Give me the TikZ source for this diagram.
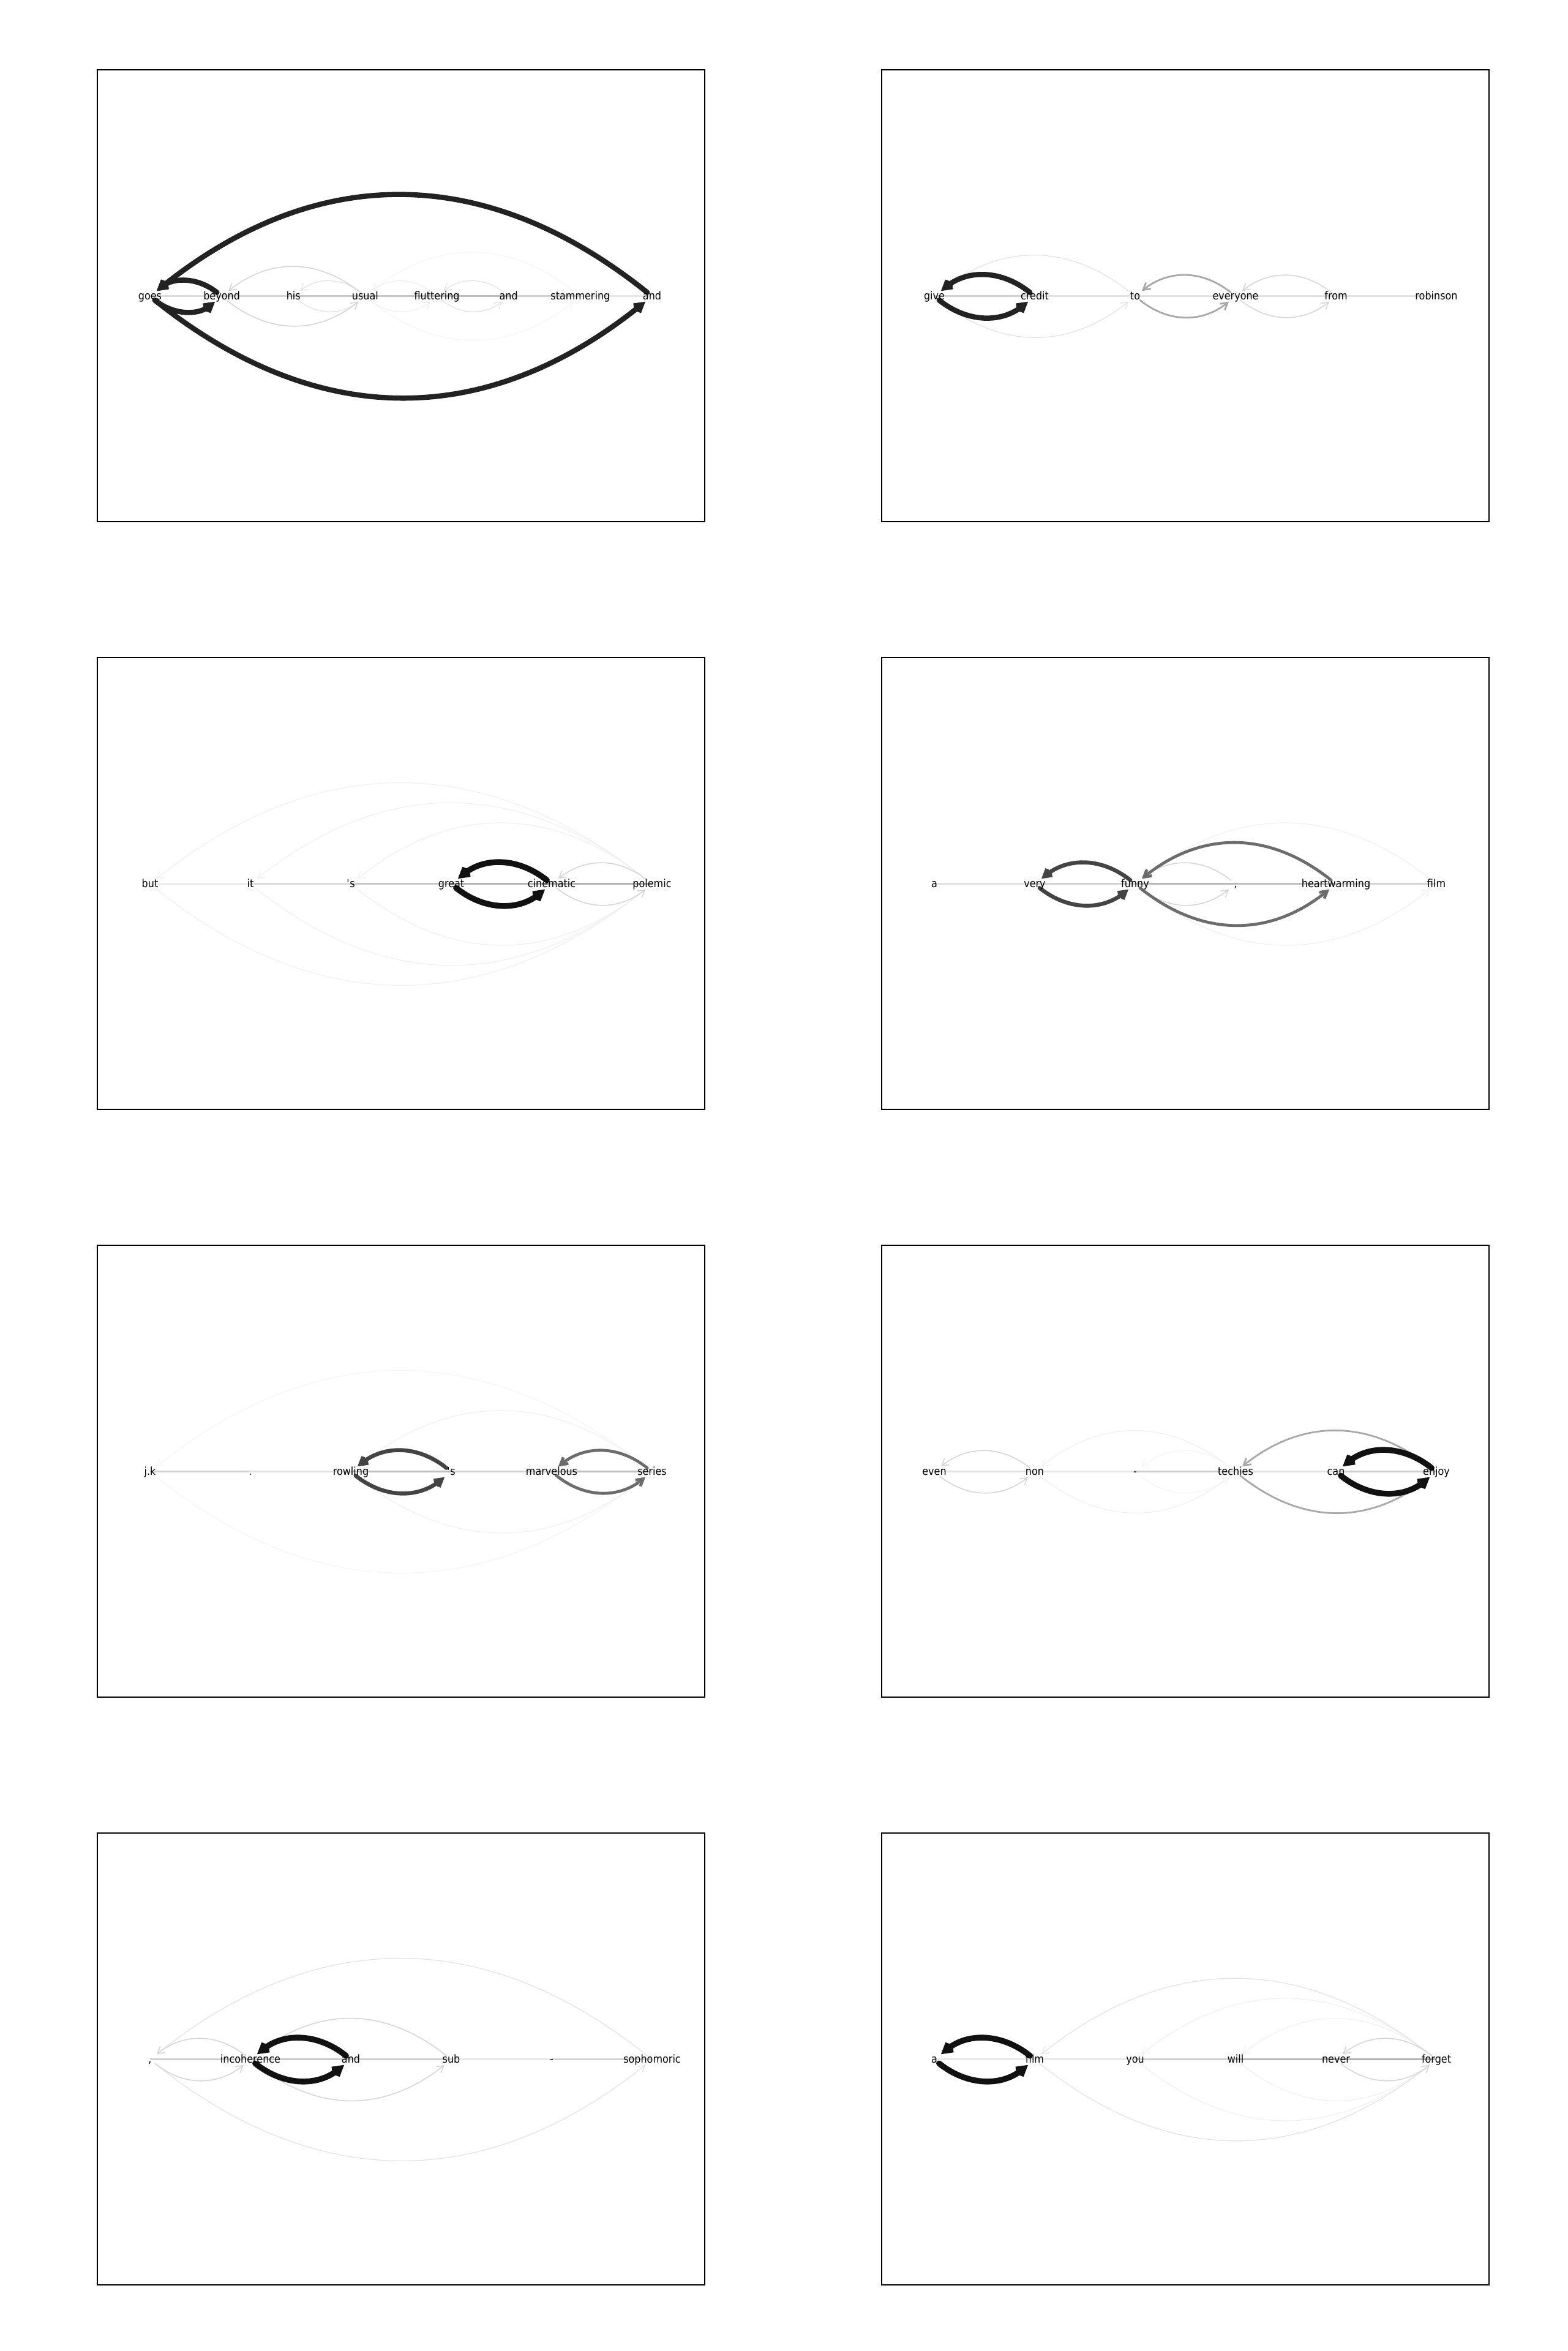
\documentclass[tikz,border=0pt]{standalone}
\usepackage{fontspec}
\newfontfamily\wordfont[FakeStretch=0.89]{DejaVu Sans}
\usetikzlibrary{arrows.meta}
\definecolor{toneblack}{RGB}{17,17,17}
\definecolor{toneheavy}{RGB}{34,34,34}
\definecolor{tonedark}{RGB}{68,68,68}
\definecolor{tonemid}{RGB}{108,108,108}
\definecolor{tonegrey}{RGB}{168,168,168}
\definecolor{tonepale}{RGB}{214,214,214}
\definecolor{tonefaint}{RGB}{226,226,226}
\definecolor{toneghost}{RGB}{238,238,238}
\definecolor{tonemist}{RGB}{244,244,244}
\pgfdeclarelayer{paper}
\pgfdeclarelayer{edges}
\pgfsetlayers{paper,edges,main}
\tikzset{
  word/.style={font=\wordfont\fontsize{5.12}{6}\selectfont, inner sep=0pt, text height=0.13cm, text depth=0.01cm},
  panelframe/.style={draw=black, line width=0.025cm},
  seqline/.style={line width=0.03cm},
  link/.style={-{Straight Barb[length=0.11cm, width=0.13cm]}, bend right=38.7, looseness=1.09, shorten <=0.1cm, shorten >=0.14cm, line cap=round},
  arcblack/.style={link, draw=toneblack, line width=0.095cm},
  archeavy/.style={link, draw=toneheavy, line width=0.085cm},
  arcdark/.style={link, draw=tonedark, line width=0.065cm},
  arcmid/.style={link, draw=tonemid, line width=0.048cm},
  arcgrey/.style={link, draw=tonegrey, line width=0.028cm},
  arcpale/.style={link, draw=tonepale, line width=0.016cm},
  arcfaint/.style={link, draw=tonefaint, line width=0.012cm},
  arcghost/.style={link, draw=toneghost, line width=0.01cm},
  arcmist/.style={link, draw=tonemist, line width=0.01cm}
}
% upper arc right-to-left, lower arc left-to-right
\newcommand{\arcpair}[3]{%
  \draw[#1] (#3.center) to (#2.center);
  \draw[#1] (#2.center) to (#3.center);}

\begin{document}
\begin{tikzpicture}
  \useasboundingbox (0,0) rectangle (25.6,38.4);
  \begin{pgfonlayer}{paper}
    \fill[white] (0,0) rectangle (25.6,38.4);
  \end{pgfonlayer}

  %% panel frames
  \draw[panelframe] (1.59,29.88) rectangle (11.51,37.26);
  \draw[panelframe] (14.40,29.88) rectangle (24.32,37.26);
  \draw[panelframe] (1.59,20.28) rectangle (11.51,27.66);
  \draw[panelframe] (14.40,20.28) rectangle (24.32,27.66);
  \draw[panelframe] (1.59,10.68) rectangle (11.51,18.06);
  \draw[panelframe] (14.40,10.68) rectangle (24.32,18.06);
  \draw[panelframe] (1.59,1.08) rectangle (11.51,8.46);
  \draw[panelframe] (14.40,1.08) rectangle (24.32,8.46);

  %% panel 1
  \node[word] (p1n0) at (2.450,33.56) {goes};
  \node[word] (p1n1) at (3.621,33.56) {beyond};
  \node[word] (p1n2) at (4.793,33.56) {his};
  \node[word] (p1n3) at (5.964,33.56) {usual};
  \node[word] (p1n4) at (7.136,33.56) {fluttering};
  \node[word] (p1n5) at (8.307,33.56) {and};
  \node[word] (p1n6) at (9.479,33.56) {stammering};
  \node[word] (p1n7) at (10.650,33.56) {and};

  %% panel 2
  \node[word] (p2n0) at (15.26,33.56) {give};
  \node[word] (p2n1) at (16.90,33.56) {credit};
  \node[word] (p2n2) at (18.54,33.56) {to};
  \node[word] (p2n3) at (20.18,33.56) {everyone};
  \node[word] (p2n4) at (21.82,33.56) {from};
  \node[word] (p2n5) at (23.46,33.56) {robinson};

  %% panel 3
  \node[word] (p3n0) at (2.45,23.96) {but};
  \node[word] (p3n1) at (4.09,23.96) {it};
  \node[word] (p3n2) at (5.73,23.96) {\textquotesingle s};
  \node[word] (p3n3) at (7.37,23.96) {great};
  \node[word] (p3n4) at (9.01,23.96) {cinematic};
  \node[word] (p3n5) at (10.65,23.96) {polemic};

  %% panel 4
  \node[word] (p4n0) at (15.26,23.96) {a};
  \node[word] (p4n1) at (16.90,23.96) {very};
  \node[word] (p4n2) at (18.54,23.96) {funny};
  \node[word] (p4n3) at (20.18,23.96) {,};
  \node[word] (p4n4) at (21.82,23.96) {heartwarming};
  \node[word] (p4n5) at (23.46,23.96) {film};

  %% panel 5
  \node[word] (p5n0) at (2.45,14.36) {j.k};
  \node[word] (p5n1) at (4.09,14.36) {.};
  \node[word] (p5n2) at (5.73,14.36) {rowling};
  \node[word] (p5n3) at (7.37,14.36) {\textquotesingle s};
  \node[word] (p5n4) at (9.01,14.36) {marvelous};
  \node[word] (p5n5) at (10.65,14.36) {series};

  %% panel 6
  \node[word] (p6n0) at (15.26,14.36) {even};
  \node[word] (p6n1) at (16.90,14.36) {non};
  \node[word] (p6n2) at (18.54,14.36) {-};
  \node[word] (p6n3) at (20.18,14.36) {techies};
  \node[word] (p6n4) at (21.82,14.36) {can};
  \node[word] (p6n5) at (23.46,14.36) {enjoy};

  %% panel 7
  \node[word] (p7n0) at (2.45,4.76) {,};
  \node[word] (p7n1) at (4.09,4.76) {incoherence};
  \node[word] (p7n2) at (5.73,4.76) {and};
  \node[word] (p7n3) at (7.37,4.76) {sub};
  \node[word] (p7n4) at (9.01,4.76) {-};
  \node[word] (p7n5) at (10.65,4.76) {sophomoric};

  %% panel 8
  \node[word] (p8n0) at (15.26,4.76) {a};
  \node[word] (p8n1) at (16.90,4.76) {film};
  \node[word] (p8n2) at (18.54,4.76) {you};
  \node[word] (p8n3) at (20.18,4.76) {will};
  \node[word] (p8n4) at (21.82,4.76) {never};
  \node[word] (p8n5) at (23.46,4.76) {forget};

  \begin{pgfonlayer}{edges}
    %% sequence lines
    \draw[seqline, black!14] (p1n0.center) -- (p1n1.center);
    \draw[seqline, black!17] (p1n1.center) -- (p1n2.center);
    \draw[seqline, black!22] (p1n2.center) -- (p1n3.center);
    \draw[seqline, black!23] (p1n3.center) -- (p1n4.center);
    \draw[seqline, black!26] (p1n4.center) -- (p1n5.center);
    \draw[seqline, black!18] (p1n5.center) -- (p1n6.center);
    \draw[seqline, black!9] (p1n6.center) -- (p1n7.center);

    \draw[seqline, black!18] (p2n0.center) -- (p2n1.center);
    \draw[seqline, black!11] (p2n1.center) -- (p2n2.center);
    \draw[seqline, black!11] (p2n2.center) -- (p2n3.center);
    \draw[seqline, black!12] (p2n3.center) -- (p2n4.center);
    \draw[seqline, black!11] (p2n4.center) -- (p2n5.center);

    \draw[seqline, black!7] (p3n0.center) -- (p3n1.center);
    \draw[seqline, black!14] (p3n1.center) -- (p3n2.center);
    \draw[seqline, black!22] (p3n2.center) -- (p3n3.center);
    \draw[seqline, black!29] (p3n3.center) -- (p3n4.center);
    \draw[seqline, black!31] (p3n4.center) -- (p3n5.center);

    \draw[seqline, black!11] (p4n0.center) -- (p4n1.center);
    \draw[seqline, black!18] (p4n1.center) -- (p4n2.center);
    \draw[seqline, black!28] (p4n2.center) -- (p4n3.center);
    \draw[seqline, black!25] (p4n3.center) -- (p4n4.center);
    \draw[seqline, black!17] (p4n4.center) -- (p4n5.center);

    \draw[seqline, black!17] (p5n0.center) -- (p5n1.center);
    \draw[seqline, black!11] (p5n1.center) -- (p5n2.center);
    \draw[seqline, black!25] (p5n2.center) -- (p5n3.center);
    \draw[seqline, black!17] (p5n3.center) -- (p5n4.center);
    \draw[seqline, black!25] (p5n4.center) -- (p5n5.center);

    \draw[seqline, black!11] (p6n0.center) -- (p6n1.center);
    \draw[seqline, black!9] (p6n1.center) -- (p6n2.center);
    \draw[seqline, black!18] (p6n2.center) -- (p6n3.center);
    \draw[seqline, black!11] (p6n3.center) -- (p6n4.center);
    \draw[seqline, black!18] (p6n4.center) -- (p6n5.center);

    \draw[seqline, black!18] (p7n0.center) -- (p7n1.center);
    \draw[seqline, black!21] (p7n1.center) -- (p7n2.center);
    \draw[seqline, black!18] (p7n2.center) -- (p7n3.center);
    \draw[seqline, black!9] (p7n3.center) -- (p7n4.center);
    \draw[seqline, black!17] (p7n4.center) -- (p7n5.center);

    \draw[seqline, black!9] (p8n0.center) -- (p8n1.center);
    \draw[seqline, black!9] (p8n1.center) -- (p8n2.center);
    \draw[seqline, black!18] (p8n2.center) -- (p8n3.center);
    \draw[seqline, black!28] (p8n3.center) -- (p8n4.center);
    \draw[seqline, black!31] (p8n4.center) -- (p8n5.center);

    %% attention arcs
    \arcpair{arcmist}{p1n3}{p1n6}
    \arcpair{arcfaint}{p1n4}{p1n5}
    \arcpair{arcghost}{p1n3}{p1n4}
    \arcpair{arcfaint}{p1n2}{p1n3}
    \arcpair{arcpale}{p1n1}{p1n3}
    \arcpair{archeavy}{p1n0}{p1n1}
    \arcpair{archeavy}{p1n0}{p1n7}

    \arcpair{arcfaint}{p2n0}{p2n2}
    \arcpair{arcpale}{p2n3}{p2n4}
    \arcpair{arcgrey}{p2n2}{p2n3}
    \arcpair{archeavy}{p2n0}{p2n1}

    \arcpair{arcghost}{p3n0}{p3n5}
    \arcpair{arcghost}{p3n1}{p3n5}
    \arcpair{arcghost}{p3n2}{p3n5}
    \arcpair{arcpale}{p3n4}{p3n5}
    \arcpair{arcblack}{p3n3}{p3n4}

    \arcpair{arcghost}{p4n2}{p4n5}
    \arcpair{arcpale}{p4n2}{p4n3}
    \arcpair{arcmid}{p4n2}{p4n4}
    \arcpair{arcdark}{p4n1}{p4n2}

    \arcpair{arcmist}{p5n0}{p5n5}
    \arcpair{arcghost}{p5n2}{p5n5}
    \arcpair{arcmid}{p5n4}{p5n5}
    \arcpair{arcdark}{p5n2}{p5n3}

    \arcpair{arcghost}{p6n1}{p6n3}
    \arcpair{arcmist}{p6n2}{p6n3}
    \arcpair{arcpale}{p6n0}{p6n1}
    \arcpair{arcgrey}{p6n3}{p6n5}
    \arcpair{arcblack}{p6n4}{p6n5}

    \arcpair{arcfaint}{p7n0}{p7n5}
    \arcpair{arcpale}{p7n1}{p7n3}
    \arcpair{arcpale}{p7n0}{p7n1}
    \arcpair{arcblack}{p7n1}{p7n2}

    \arcpair{arcghost}{p8n3}{p8n5}
    \arcpair{arcghost}{p8n2}{p8n5}
    \arcpair{arcfaint}{p8n1}{p8n5}
    \arcpair{arcpale}{p8n4}{p8n5}
    \arcpair{arcblack}{p8n0}{p8n1}
  \end{pgfonlayer}
\end{tikzpicture}
\end{document}
